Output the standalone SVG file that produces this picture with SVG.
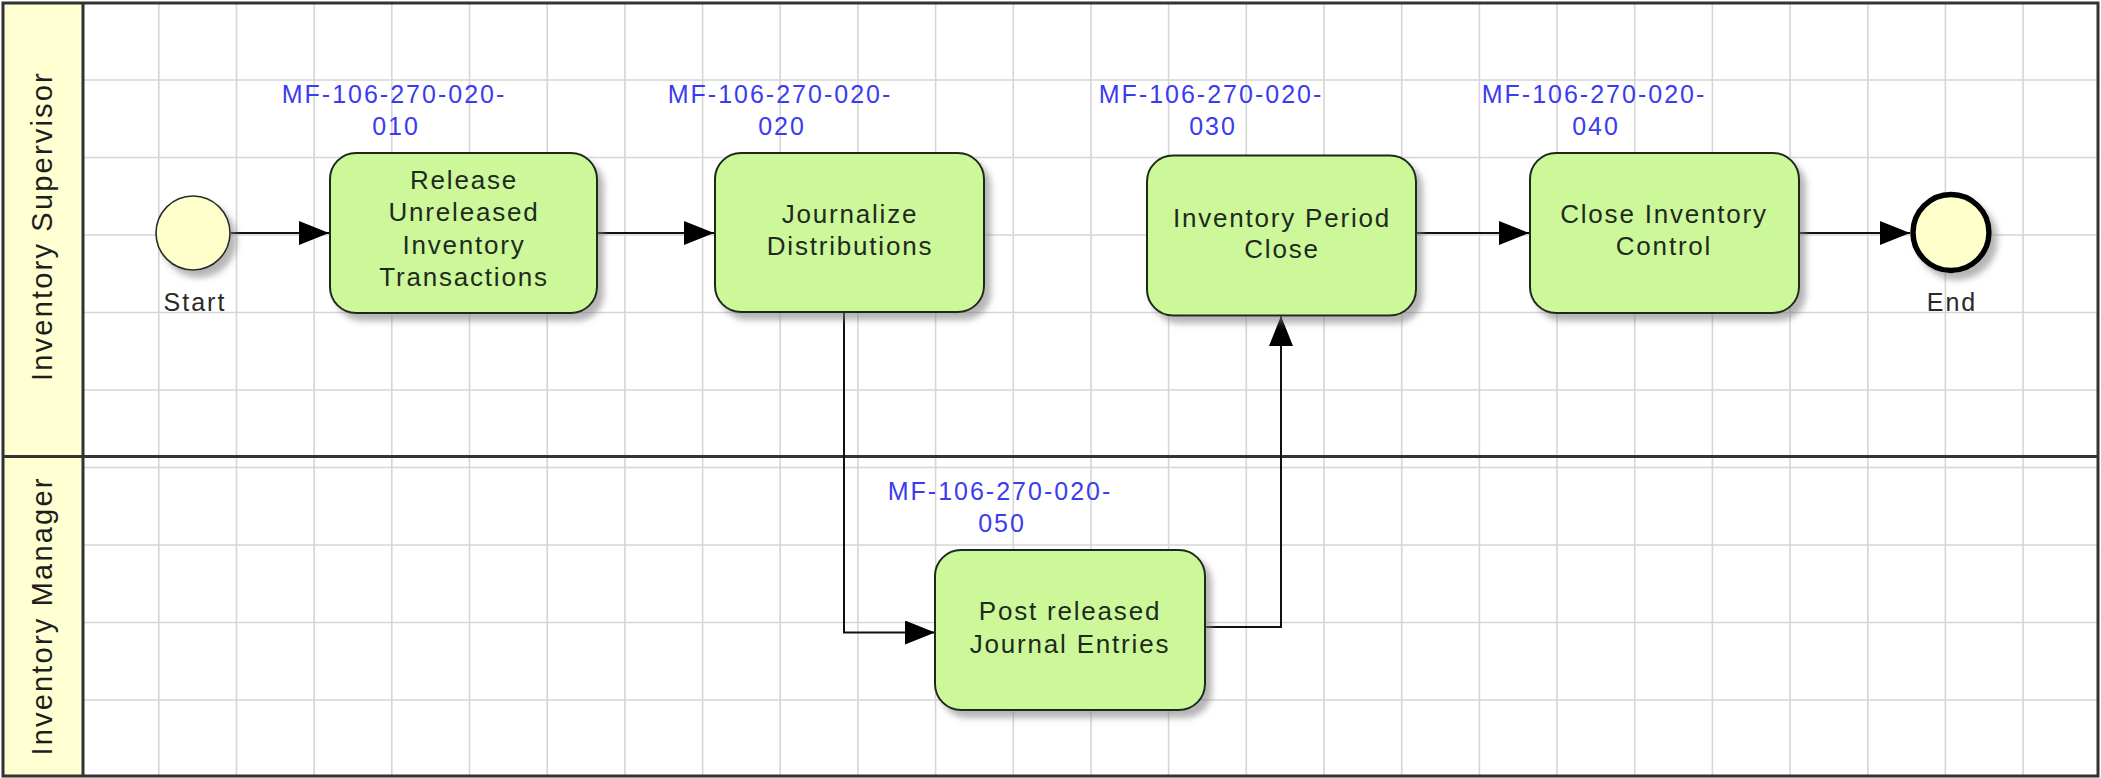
<svg xmlns="http://www.w3.org/2000/svg" width="2101" height="778" viewBox="0 0 2101 778">
<style>
.grid{stroke:#d6d6d6;stroke-width:1.6;fill:none}
.hdr{fill:#ffffd2}
.frame{fill:none;stroke:#333;stroke-width:3}
.lanetxt{font-family:"Liberation Sans",Arial,sans-serif;font-size:29px;letter-spacing:2.2px;fill:#1e1e1e;text-anchor:middle}
.task{fill:#ccf899;stroke:#1c2a1c;stroke-width:2}
.ttxt{font-family:"Liberation Sans",Arial,sans-serif;font-size:26px;letter-spacing:1.8px;fill:#1f2a1f;text-anchor:middle}
.lbl{font-family:"Liberation Sans",Arial,sans-serif;font-size:25px;letter-spacing:2px;fill:#3b3bef;text-anchor:middle}
.evtxt{font-family:"Liberation Sans",Arial,sans-serif;font-size:25px;letter-spacing:2px;fill:#2a2a2a;text-anchor:middle}
.conn{fill:none;stroke:#111;stroke-width:2}
</style>
<defs>
<filter id="sh" x="-20%" y="-20%" width="150%" height="150%">
<feDropShadow dx="6" dy="7" stdDeviation="3" flood-color="#7a7a7a" flood-opacity="0.55"/>
</filter>
<marker id="arr" markerUnits="userSpaceOnUse" viewBox="0 0 30 24" markerWidth="30" markerHeight="24" refX="30" refY="12" orient="auto">
<path d="M0,0 L30,12 L0,24 Z" fill="#000"/>
</marker>
</defs>
<rect x="0" y="0" width="2101" height="778" fill="#ffffff"/>
<g id="lanes">
<rect class="hdr" x="3" y="3" width="80" height="773"/>
<path class="grid" d="M158.8,3V776M236.5,3V776M314.2,3V776M391.8,3V776M469.5,3V776M547.2,3V776M624.9,3V776M702.6,3V776M780.2,3V776M857.9,3V776M935.6,3V776M1013.3,3V776M1091,3V776M1168.6,3V776M1246.3,3V776M1324,3V776M1401.7,3V776M1479.4,3V776M1557,3V776M1634.7,3V776M1712.4,3V776M1790.1,3V776M1867.8,3V776M1945.4,3V776M2023.1,3V776"/>
<path class="grid" d="M83,80H2098M83,157.5H2098M83,235H2098M83,312.5H2098M83,390H2098M83,467.5H2098M83,545H2098M83,622.5H2098M83,700H2098"/>
<rect class="frame" x="3" y="3" width="2095" height="773"/>
<path class="frame" d="M3,456.5H2098M83,3V776"/>
<text class="lanetxt" transform="translate(52,226) rotate(-90)">Inventory Supervisor</text>
<text class="lanetxt" transform="translate(52,616) rotate(-90)">Inventory Manager</text>
</g>
<g id="connectors">
<path class="conn" d="M231,233H329" marker-end="url(#arr)"/>
<path class="conn" d="M597,233H714" marker-end="url(#arr)"/>
<path class="conn" d="M844,313V632.5H935" marker-end="url(#arr)"/>
<path class="conn" d="M1205,627H1281V316" marker-end="url(#arr)"/>
<path class="conn" d="M1416,233H1529" marker-end="url(#arr)"/>
<path class="conn" d="M1799,233H1910" marker-end="url(#arr)"/>
</g>
<g id="start">
<circle cx="193" cy="233" r="37" fill="#ffffcc" stroke="#2a2a2a" stroke-width="1.6" filter="url(#sh)"/>
<text class="evtxt" x="195" y="311">Start</text>
</g>
<g id="task010">
<rect class="task" x="330" y="153" width="267" height="160" rx="26" filter="url(#sh)"/>
<text class="lbl" x="394" y="103">MF-106-270-020-</text>
<text class="lbl" x="396" y="135">010</text>
<text class="ttxt" x="464" y="188.5">Release</text>
<text class="ttxt" x="464" y="221">Unreleased</text>
<text class="ttxt" x="464" y="253.5">Inventory</text>
<text class="ttxt" x="464" y="286">Transactions</text>
</g>
<g id="task020">
<rect class="task" x="715" y="153" width="269" height="159" rx="26" filter="url(#sh)"/>
<text class="lbl" x="780" y="103">MF-106-270-020-</text>
<text class="lbl" x="782" y="135">020</text>
<text class="ttxt" x="850" y="222.5">Journalize</text>
<text class="ttxt" x="850" y="255">Distributions</text>
</g>
<g id="task030">
<rect class="task" x="1147" y="155.5" width="269" height="160" rx="26" filter="url(#sh)"/>
<text class="lbl" x="1211" y="103">MF-106-270-020-</text>
<text class="lbl" x="1213" y="135">030</text>
<text class="ttxt" x="1282" y="226.5">Inventory Period</text>
<text class="ttxt" x="1282" y="258">Close</text>
</g>
<g id="task040">
<rect class="task" x="1530" y="153" width="269" height="160" rx="26" filter="url(#sh)"/>
<text class="lbl" x="1594" y="103">MF-106-270-020-</text>
<text class="lbl" x="1596" y="135">040</text>
<text class="ttxt" x="1664" y="222.5">Close Inventory</text>
<text class="ttxt" x="1664" y="255">Control</text>
</g>
<g id="task050">
<rect class="task" x="935" y="550" width="270" height="160" rx="26" filter="url(#sh)"/>
<text class="lbl" x="1000" y="500">MF-106-270-020-</text>
<text class="lbl" x="1002" y="532">050</text>
<text class="ttxt" x="1070" y="620">Post released</text>
<text class="ttxt" x="1070" y="652.5">Journal Entries</text>
</g>
<g id="end">
<circle cx="1951" cy="232.5" r="38" fill="#ffffcc" stroke="#000" stroke-width="5.5" filter="url(#sh)"/>
<text class="evtxt" x="1952" y="311">End</text>
</g>
</svg>
